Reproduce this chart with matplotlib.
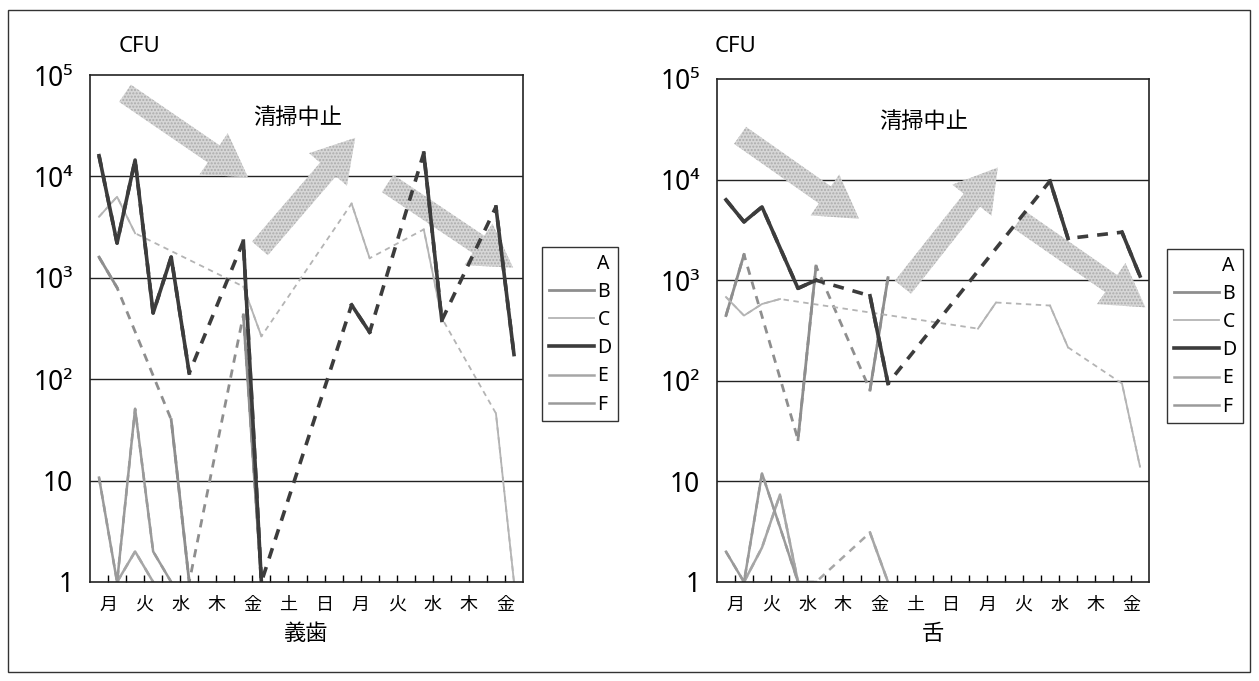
import numpy as np
import matplotlib.pyplot as plt
from matplotlib.lines import Line2D
from matplotlib.patches import Rectangle

plt.rcParams['font.family'] = ['Noto Sans CJK JP', 'DejaVu Sans']

nan = np.nan
# 24 samples: two per day, Mon .. Fri of the following week
days = ['月', '火', '水', '木', '金', '土', '日', '月', '火', '水', '木', '金']
series_names = ['A', 'B', 'C', 'D', 'E', 'F']
yticks = [1, 10, 100, 1000, 10000, 100000]
ytick_labels = ['1', '10', '10²', '10³', '10⁴', '10⁵']

# 義歯 (denture)
denture_B = [1600, 800, nan, nan, 40, 1, nan, nan, 430, 1] + [nan] * 14
denture_C = [4000, 6300, 2750, nan, nan, nan, nan, nan, 820, 265, nan, nan, nan, nan,
             5400, 1560, nan, nan, 3000, 400, nan, nan, 46, 1]
denture_D = [16000, 2200, 14500, 450, 1600, 115, nan, nan, 2300, 1, nan, nan, nan, nan,
             540, 290, nan, nan, 17000, 380, nan, nan, 5000, 175]
denture_E = [nan, 1, 2, 1] + [nan] * 20
denture_F = [10.7, 1, 51, 2, 1] + [nan] * 19

# 舌 (tongue)
tongue_B = [445, 1800, nan, nan, 26, 1380, nan, nan, 81, 1060] + [nan] * 14
tongue_C = [680, 445, 580, 650, nan, nan, nan, nan, nan, nan, nan, nan, nan, nan,
            330, 600, nan, nan, 560, 215, nan, nan, 94, 14]
tongue_D = [6300, 3800, 5350, 2100, 830, 1000, nan, nan, 700, 94, nan, nan, nan, nan,
            nan, nan, nan, nan, 9700, 2600, nan, nan, 3000, 1100]
tongue_E = [nan, 1, 2.2, 7.4, 1, 1, nan, nan, 3.1, 1] + [nan] * 14
tongue_F = [2, 1, 12, 3.5, 1] + [nan] * 19

colors = {'B': '#8e8e8e', 'C': '#b4b4b4', 'D': '#3c3c3c', 'E': '#a6a6a6', 'F': '#9a9a9a'}
widths = {'B': 2.0, 'C': 1.3, 'D': 2.6, 'E': 1.8, 'F': 1.8}

x = np.arange(24)


def draw(ax, vals, name):
    y = np.array(vals, dtype=float)
    ok = ~np.isnan(y)
    # dashed where days are skipped, solid between consecutive samples
    ax.plot(x[ok], y[ok], color=colors[name], lw=widths[name], ls=(0, (3, 2.5)))
    line, = ax.plot(x, y, color=colors[name], lw=widths[name])
    return line


def big_arrow(ax, tail, tip):
    ax.annotate('', xy=tip, xytext=tail,
                arrowprops=dict(arrowstyle='simple,head_length=3.0,head_width=3.6,tail_width=1.5',
                                mutation_scale=10, facecolor='#d6d6d6', edgecolor='#ababab',
                                lw=0, hatch='.....', shrinkA=0, shrinkB=0), zorder=1)


fig = plt.figure(figsize=(12.59, 6.81), dpi=100)
fig.add_artist(Rectangle((8 / 1259, 9 / 681), 1242 / 1259, 662 / 681, transform=fig.transFigure,
                         fill=False, lw=1.0, edgecolor='#333333'))

panels = [
    ([90, 75, 523, 582], '義歯', [denture_B, denture_C, denture_D, denture_E, denture_F],
     [((1.44, 10**4.82), (8.26, 10**3.99)), ((8.92, 10**3.29), (14.2, 10**4.38)),
      ((16.0, 10**3.93), (22.95, 10**3.10))], [542, 247, 612, 412], 140),
    ([717, 79, 1149, 582], '舌', [tongue_B, tongue_C, tongue_D, tongue_E, tongue_F],
     [((0.78, 10**4.44), (7.39, 10**3.61)), ((9.83, 10**2.93), (15.1, 10**4.12)),
      ((16.3, 10**3.60), (23.3, 10**2.73))], [1167, 249, 1236, 413], 735),
]

for box, xlabel_txt, data, arrows, lbox, cfu_x in panels:
    l, t, r, b = box
    ax = fig.add_axes([l / 1259, 1 - b / 681, (r - l) / 1259, (b - t) / 681])
    ax.set_yscale('log')
    ax.set_ylim(1, 1e5)
    ax.set_xlim(-0.5, 23.5)
    for yv in yticks[1:-1]:
        ax.axhline(yv, color='#222222', lw=1.0, zorder=0.5)

    for a_tail, a_tip in arrows:
        big_arrow(ax, a_tail, a_tip)

    handles = [Line2D([], [], color='none')]
    for name, vals in zip(series_names[1:], data):
        handles.append(draw(ax, vals, name))

    ax.set_yticks(yticks)
    ax.set_yticklabels(ytick_labels, fontsize=19, fontweight='light',
                       family=['Noto Sans', 'DejaVu Sans'])
    ax.minorticks_off()
    ax.tick_params(axis='y', length=0, pad=12)
    xt = np.arange(0.5, 23, 1)
    ax.set_xticks(xt)
    ax.set_xticklabels([days[k // 2] if k % 2 == 0 else '' for k in range(len(xt))], fontsize=13)
    ax.tick_params(axis='x', direction='in', length=5, width=1, pad=10)
    for s in ax.spines.values():
        s.set_linewidth(1.2)
        s.set_color('#222222')
    ax.set_xlabel(xlabel_txt, fontsize=16, labelpad=6)

    ax.text(11.0, 10**4.58, '清掃中止', fontsize=16, ha='center', va='center')
    fig.text(cfu_x / 1259, 1 - 47 / 681, 'CFU', fontsize=16, ha='center', va='center',
             fontweight='light', family=['Noto Sans', 'DejaVu Sans'])

    ll, lt, lr, lb = lbox
    leg = ax.legend(handles, series_names, loc='upper left',
                    bbox_to_anchor=(ll / 1259, 1 - lt / 681), bbox_transform=fig.transFigure,
                    fontsize=14, frameon=True, fancybox=False, edgecolor='#333333',
                    framealpha=1, handlelength=2.3, labelspacing=0.42, borderpad=0.35,
                    handletextpad=0.2, borderaxespad=0)
    leg.get_frame().set_linewidth(1.0)
    for txt in leg.get_texts():
        txt.set_family(['Noto Sans', 'DejaVu Sans'])
        txt.set_fontweight('light')

fig.savefig('out.png', dpi=100)
